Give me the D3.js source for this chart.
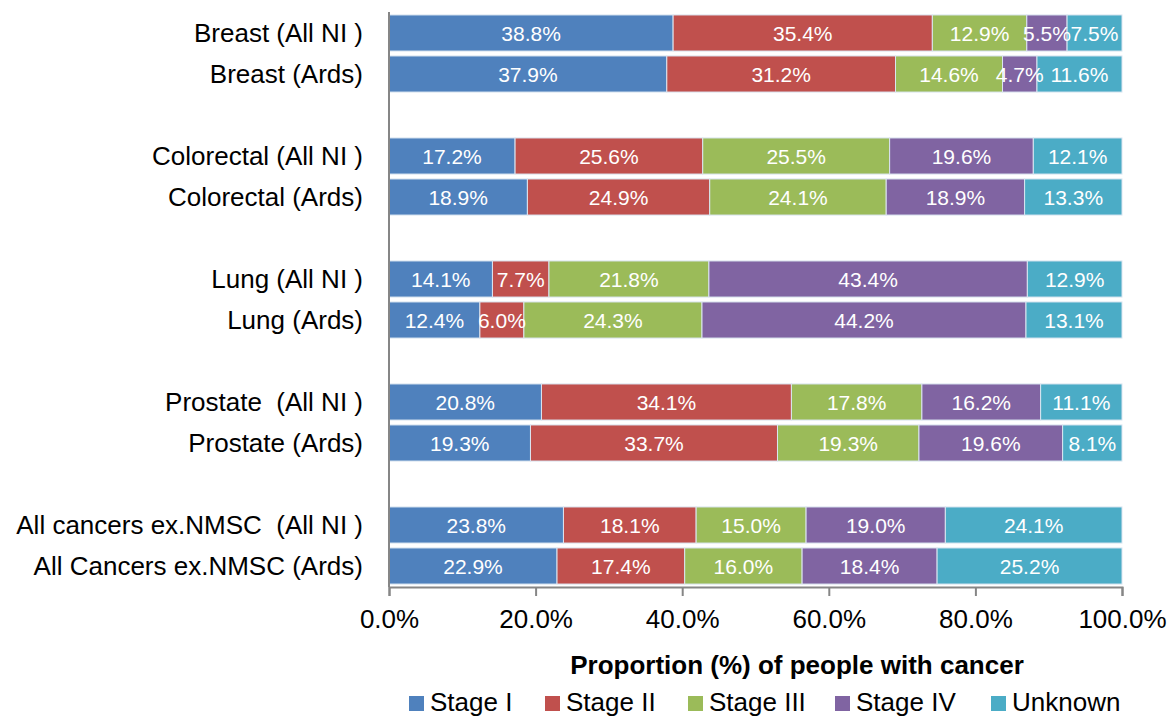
<!DOCTYPE html>
<html>
<head>
<meta charset="utf-8">
<script src="https://cdn.jsdelivr.net/npm/d3@7"></script>
<style>
   body { margin: 0; background: #fff; }
   text { font-family: "Liberation Sans", Arial, sans-serif; white-space: pre; }
</style>
</head>
<body>
<svg id="chart" width="1169" height="718"></svg>
<script>
// rows top to bottom; blank strings are the gaps between groups
const categories = [
   'Breast (All NI )', 'Breast (Ards)', '',
   'Colorectal (All NI )', 'Colorectal (Ards)', ' ',
   'Lung (All NI )', 'Lung (Ards)', '  ',
   'Prostate  (All NI )', 'Prostate (Ards)', '   ',
   'All cancers ex.NMSC  (All NI )', 'All Cancers ex.NMSC (Ards)'
];
const stages = [ 'Stage I', 'Stage II', 'Stage III', 'Stage IV', 'Unknown' ];
const stageI   = [ 38.8, 37.9, 17.2, 18.9, 14.1, 12.4, 20.8, 19.3, 23.8, 22.9 ];
const stageII  = [ 35.4, 31.2, 25.6, 24.9, 7.7, 6.0, 34.1, 33.7, 18.1, 17.4 ];
const stageIII = [ 12.9, 14.6, 25.5, 24.1, 21.8, 24.3, 17.8, 19.3, 15.0, 16.0 ];
const stageIV  = [ 5.5, 4.7, 19.6, 18.9, 43.4, 44.2, 16.2, 19.6, 19.0, 18.4 ];
const unknown  = [ 7.5, 11.6, 12.1, 13.3, 12.9, 13.1, 11.1, 8.1, 24.1, 25.2 ];
const xTicks = [ 0, 20, 40, 60, 80, 100 ];
const colors = [ '#4f81bd', '#c0504d', '#9bbb59', '#8064a2', '#4bacc6' ];

const series = [ stageI, stageII, stageIII, stageIV, unknown ];
const labels = categories.filter( c => c.trim() !== '' );
const rows = labels.map( ( name, i ) => {
   const vals = series.map( s => s[ i ] );
   const total = d3.sum( vals );
   let acc = 0;
   return {
      name,
      segs: vals.map( ( v, k ) => {
         const seg = { k, v, x0: acc / total * 100, x1: ( acc + v ) / total * 100 };
         acc += v;
         return seg;
      } )
   };
} );

const svg = d3.select( '#chart' );
const x = d3.scaleLinear().domain( [ 0, 100 ] ).range( [ 389, 1122 ] );
const y = d3.scaleBand().domain( categories ).range( [ 12.5, 586.5 ] ).paddingInner( 0.12 ).paddingOuter( 0.06 );

const rowG = svg.append( 'g' ).selectAll( 'g' ).data( rows ).join( 'g' )
   .attr( 'transform', d => `translate(0,${y( d.name )})` );

rowG.selectAll( 'rect' ).data( d => d.segs ).join( 'rect' )
   .attr( 'x', d => x( d.x0 ) )
   .attr( 'width', d => x( d.x1 ) - x( d.x0 ) )
   .attr( 'height', y.bandwidth() )
   .attr( 'fill', d => colors[ d.k ] )
   .attr( 'stroke', '#dbe5f1' )
   .attr( 'stroke-width', 1 );

rowG.selectAll( 'text' ).data( d => d.segs ).join( 'text' )
   .attr( 'x', d => ( x( d.x0 ) + x( d.x1 ) ) / 2 )
   .attr( 'y', y.bandwidth() / 2 )
   .attr( 'dy', '0.36em' )
   .attr( 'text-anchor', 'middle' )
   .attr( 'fill', '#fff' )
   .style( 'font-size', '21px' )
   .text( d => d.v.toFixed( 1 ) + '%' );

// category labels
svg.append( 'g' ).selectAll( 'text' ).data( labels ).join( 'text' )
   .attr( 'x', 363 )
   .attr( 'y', d => y( d ) + y.bandwidth() / 2 )
   .attr( 'dy', '0.36em' )
   .attr( 'text-anchor', 'end' )
   .attr( 'fill', '#000' )
   .style( 'font-size', '26px' )
   .text( d => d );

// vertical axis line
svg.append( 'line' )
   .attr( 'x1', x( 0 ) ).attr( 'x2', x( 0 ) )
   .attr( 'y1', 12 ).attr( 'y2', 587 )
   .attr( 'stroke', '#868686' ).attr( 'stroke-width', 2 );

// x axis
const xAxis = svg.append( 'g' )
   .attr( 'transform', 'translate(0,587)' )
   .call( d3.axisBottom( x ).tickValues( xTicks ).tickSize( 9 ).tickPadding( 14 ).tickFormat( d => d.toFixed( 1 ) + '%' ) );
xAxis.select( '.domain' ).attr( 'stroke', '#868686' ).attr( 'stroke-width', 2 );
xAxis.selectAll( '.tick line' ).attr( 'stroke', '#868686' ).attr( 'stroke-width', 2 );
xAxis.selectAll( '.tick text' )
   .attr( 'fill', '#000' )
   .style( 'font-family', '"Liberation Sans", Arial, sans-serif' )
   .style( 'font-size', '26px' );

svg.append( 'text' )
   .attr( 'x', 797 )
   .attr( 'y', 674 )
   .attr( 'text-anchor', 'middle' )
   .style( 'font-size', '26px' )
   .style( 'font-weight', 'bold' )
   .text( 'Proportion (%) of people with cancer' );

// legend
const legendX = [ 409, 545, 688, 835, 991 ];
const legend = svg.append( 'g' ).selectAll( 'g' ).data( stages ).join( 'g' )
   .attr( 'transform', ( d, i ) => `translate(${legendX[ i ]},702)` );
legend.append( 'rect' )
   .attr( 'x', 0 ).attr( 'y', -6 )
   .attr( 'width', 15 ).attr( 'height', 15 )
   .attr( 'fill', ( d, i ) => colors[ i ] );
legend.append( 'text' )
   .attr( 'x', 21 )
   .attr( 'dy', '0.36em' )
   .style( 'font-size', '26px' )
   .text( d => d );
</script>
</body>
</html>
